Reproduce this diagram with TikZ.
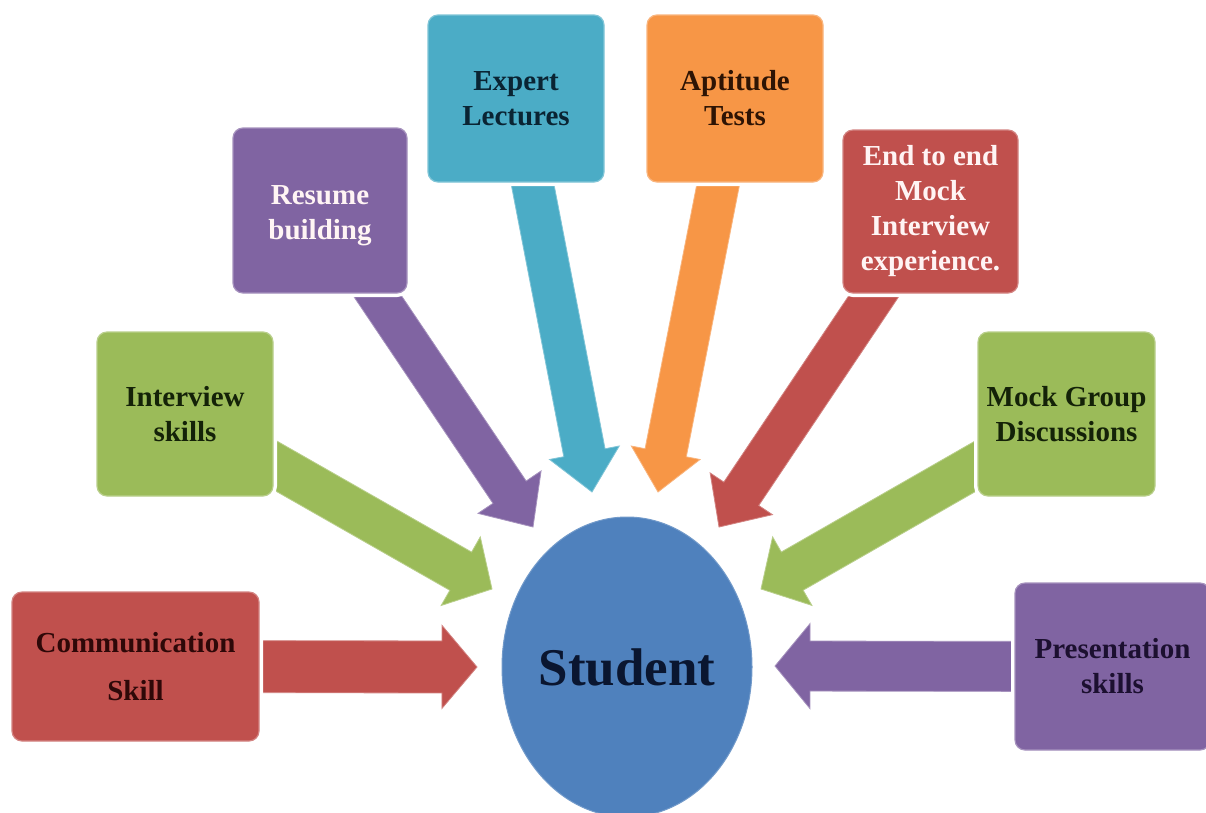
\documentclass[tikz,border=0pt]{standalone}
\usepackage{fontspec}
\setmainfont{Liberation Serif}
\usetikzlibrary{calc,shapes.geometric}
\pgfdeclarelayer{bg}
\pgfdeclarelayer{paper}
\pgfsetlayers{paper,bg,main}
\definecolor{cred}{HTML}{C0504D}
\definecolor{cgreen}{HTML}{9BBB59}
\definecolor{cpurple}{HTML}{8064A2}
\definecolor{cteal}{HTML}{4BACC6}
\definecolor{corange}{HTML}{F79646}
\definecolor{cblue}{HTML}{4F81BD}
\definecolor{tred}{HTML}{2E0808}
\definecolor{tgreen}{HTML}{142208}
\definecolor{tteal}{HTML}{0A2433}
\definecolor{torange}{HTML}{2E1404}
\definecolor{tpurple}{HTML}{1C1030}
\definecolor{tblue}{HTML}{0A1630}
\definecolor{tlight}{HTML}{FFF4F4}
\newcommand\blockarrow[6]{%
  \coordinate (ba-h) at ($(#3)!#6!(#2)$);
  \fill[#1, draw=#1!70!white, line width=0.8pt, line join=miter]
    ($(#2)!#4!90:(#3)$) -- ($(ba-h)!#4!90:(#3)$) -- ($(ba-h)!#5!90:(#3)$)
    -- (#3) -- ($(ba-h)!#5!-90:(#3)$) -- ($(ba-h)!#4!-90:(#3)$)
    -- ($(#2)!#4!-90:(#3)$) -- cycle;
}
\tikzset{
  box/.style={rectangle, rounded corners=10pt, inner sep=0pt, align=center,
    font=\fontsize{29}{35}\selectfont\bfseries, line width=1.2pt,
    preaction={draw=white, line width=8pt}},
}
\begin{document}
\begin{tikzpicture}[x=1pt, y=-1pt]
\clip (0,0) rectangle (1206,812);
\begin{pgfonlayer}{paper}
\fill[white] (0,0) rectangle (1206,812);
\end{pgfonlayer}
% centre
\node[ellipse, fill=cblue, draw=cblue!80!white, line width=1pt, minimum width=250pt, minimum height=300pt, inner sep=0pt,
  font=\fontsize{53}{60}\selectfont\bfseries, text=tblue] (student) at (627,667) {Student};
% boxes
\node[box, fill=cred, draw=cred!70!white, text=tred, minimum width=247pt, minimum height=149pt] (comm) at (135.5,666.5) {Communication\\[13pt]Skill};
\node[box, fill=cgreen, draw=cgreen!70!white, text=tgreen, minimum width=176pt, minimum height=164pt] (inter) at (185,414) {Interview\\skills};
\node[box, fill=cpurple, draw=cpurple!70!white, text=tlight, minimum width=174pt, minimum height=165pt] (resume) at (320,210.5) {\rule{0pt}{30pt}Resume\\building};
\node[box, fill=cteal, draw=cteal!70!white, text=tteal, minimum width=176pt, minimum height=167pt] (expert) at (516,98.5) {Expert\\Lectures};
\node[box, fill=corange, draw=corange!70!white, text=torange, minimum width=176pt, minimum height=167pt] (apt) at (735,98.5) {Aptitude\\Tests};
\node[box, fill=cred, draw=cred!70!white, text=tlight, minimum width=175pt, minimum height=163pt] (endend) at (930.5,211.5) {End to end\\Mock\\Interview\\experience.};
\node[box, fill=cgreen, draw=cgreen!70!white, text=tgreen, minimum width=177pt, minimum height=164pt] (mock) at (1066.5,414) {Mock Group\\Discussions};
\node[box, fill=cpurple, draw=cpurple!70!white, text=tpurple, minimum width=195pt, minimum height=167pt] (pres) at (1112.5,666.5) {Presentation\\skills};
% arrow tips
\coordinate (tcomm) at (477,667);
\coordinate (tinter) at (492,589);
\coordinate (tresume) at (533,527);
\coordinate (texpert) at (592,492);
\coordinate (tapt) at (658,492);
\coordinate (tend) at (719,527);
\coordinate (tmock) at (761,589);
\coordinate (tpres) at (775,666);
\begin{pgfonlayer}{bg}
\blockarrow{cred}{comm.center}{tcomm}{26pt}{41.5pt}{35pt}
\blockarrow{cgreen}{inter.center}{tinter}{22pt}{39.5pt}{36pt}
\blockarrow{cpurple}{resume.center}{tresume}{20pt}{38pt}{42pt}
\blockarrow{cteal}{expert.center}{texpert}{21pt}{35.5pt}{40pt}
\blockarrow{corange}{apt.center}{tapt}{21pt}{35pt}{40pt}
\blockarrow{cred}{endend.center}{tend}{21pt}{37.5pt}{40pt}
\blockarrow{cgreen}{mock.center}{tmock}{22pt}{39.5pt}{36pt}
\blockarrow{cpurple}{pres.center}{tpres}{25pt}{42.5pt}{35pt}
\end{pgfonlayer}
\end{tikzpicture}
\end{document}
